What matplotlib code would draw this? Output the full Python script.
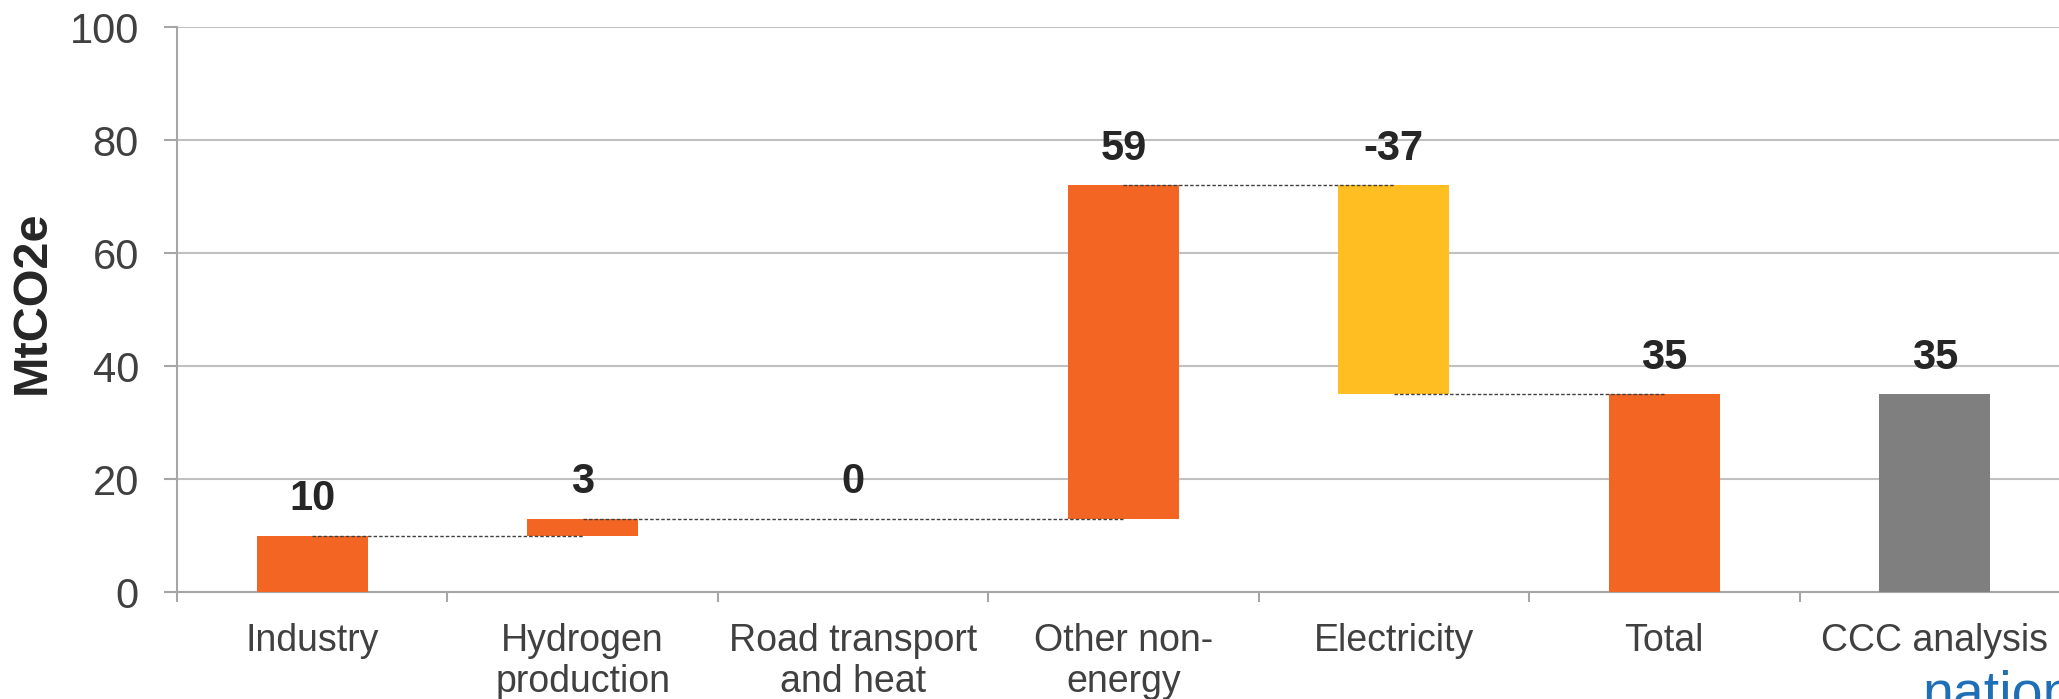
import numpy as np
import matplotlib.pyplot as plt

plt.rcParams['font.family'] = ['Liberation Sans', 'DejaVu Sans']

# Datos del waterfall
categorias = ['Industry', 'Hydrogen\nproduction', 'Road transport\nand heat',
              'Other non-\nenergy', 'Electricity', 'Total', 'CCC analysis']
pasos = [10, 3, 0, 59, -37]
total = 35
ccc = 35
etiquetas = ['10', '3', '0', '59', '-37', '35', '35']

naranja = '#F26522'
amarillo = '#FFBE21'
gris = '#7F7F7F'
texto = '#404040'

# Bases y alturas de las barras
fin = np.cumsum(pasos)
inicio = fin - np.array(pasos)
bases = list(np.minimum(inicio, fin)) + [0, 0]
alturas = list(np.abs(pasos)) + [total, ccc]
colores = [naranja if p >= 0 else amarillo for p in pasos] + [naranja, gris]
tope = list(np.maximum(inicio, fin)) + [total, ccc]

fig = plt.figure(figsize=(20.59, 6.99), dpi=100)
ax = fig.add_axes([0.086, 0.153, 0.9193, 0.808])

x = np.arange(len(categorias))
ax.bar(x, alturas, bottom=bases, width=0.41, color=colores, zorder=3)

# Lineas de conexion
for i in range(len(pasos)):
    ax.plot([x[i], x[i + 1]], [fin[i], fin[i]], ls=(0, (2.5, 1.5)),
            color='#404040', lw=1.0, zorder=4)

# Etiquetas de valores
for i, et in enumerate(etiquetas):
    ax.annotate(et, (x[i], tope[i]), xytext=(0, 12), textcoords='offset points',
                ha='center', va='bottom', fontsize=30, fontweight='bold',
                color='#262626')

ax.set_xlim(-0.5, len(categorias) - 0.5)
ax.set_ylim(0, 100)
ax.set_yticks(np.arange(0, 101, 20))
ax.set_xticks(x)
ax.set_xticklabels(categorias)
ax.set_xticks(np.arange(-0.5, len(categorias), 1), minor=True)
ax.tick_params(axis='x', which='major', length=0, pad=22, labelsize=27,
               labelcolor=texto)
ax.tick_params(axis='x', which='minor', length=7.5, width=1.5, color='#A6A6A6')
ax.tick_params(axis='y', length=9.5, width=1.5, color='#A6A6A6', pad=18,
               labelsize=30, labelcolor=texto)
for t in ax.get_xticklabels():
    t.set_linespacing(1.2)

ax.grid(axis='y', color='#C0C0C0', lw=1.5, zorder=0)
for s in ['top', 'right']:
    ax.spines[s].set_visible(False)
for s in ['left', 'bottom']:
    ax.spines[s].set_color('#A6A6A6')
    ax.spines[s].set_linewidth(1.5)

ax.set_ylabel('MtCO2e', fontsize=35, fontweight='bold', color='#262626')
ax.yaxis.set_label_coords(-0.0644, 0.513)

fig.text(0.9335, -0.016, 'nationalgrid', fontsize=40, color='#1F6FB7',
         ha='left', va='baseline')

fig.savefig('out.png', dpi=100)
